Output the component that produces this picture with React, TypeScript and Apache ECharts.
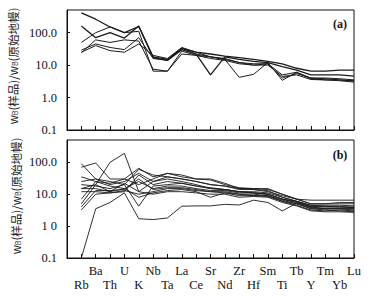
import React, { useEffect, useRef } from "react";
import * as echarts from "echarts";

const elements = ["Rb","Ba","Th","U","K","Nb","Ta","La","Ce","Sr","Nd","Zr","Hf","Sm","Ti","Tb","Y","Tm","Yb","Lu"];
const yTickLabelsA: Record<string, string> = { "-1": "0.1", "0": "1.0", "1": "10.0", "2": "100.0" };
const yTickLabelsB: Record<string, string> = { "-1": "0.1", "0": "1 0", "1": "10.0", "2": "100.0" };

// Panel (a)
const a1 = [410, 260, 150, 100, 155, 18, 15, 33, 25, 22, 19, 17, 15, 13, 11, 8, 6.5, 6.5, 7, 7];
const a2 = [160, 70, 100, 68, 160, 17, 14, 30, 22, 5, 18, 15, 13, 12, 9, 7, 5, 5, 5, 4.6];
const a3 = [50, 100, 150, 100, 110, 6.5, 6.5, 22, 20, 18, 15, 4.2, 5.2, 12, 3.4, 6, 3.8, 3.5, 3.5, 3.2];
const a4 = [29, 45, 35, 30, 70, 16, 14, 33, 22, 18, 15, 12, 11, 11, 4, 5.5, 4, 4, 3.8, 3.5];
const a5 = [25, 40, 28, 25, 45, 20, 16, 35, 25, 18, 16, 12, 10, 11, 5, 6, 4, 3.8, 3.5, 3.3];
const a6 = [24, 60, 50, 60, 55, 7.5, 6.5, 27, 20, 16, 14, 11, 10, 10, 4.5, 5, 3.6, 3.5, 3.3, 3.0];
const panelA = [a1, a2, a3, a4, a5, a6];

// Panel (b)
const b1 = [0.1, 3.5, 5.5, 11, 1.7, 1.6, 1.8, 4.2, 4.3, 4.3, 4.8, 4.6, 6.5, 5.5, 3.0, 5.2, 3.5, 3.2, 3.0, 2.8];
const b2 = [15, 20, 100, 190, 12, 25, 30, 25, 20, 15, 14, 12, 11, 10, 7, 6, 4, 3.5, 3.5, 3.2];
const b3 = [90, 30, 25, 20, 60, 40, 35, 30, 25, 20, 18, 15, 14, 13, 8, 6, 4.5, 4.2, 4, 3.8];
const b4 = [70, 95, 30, 30, 20, 30, 45, 40, 30, 28, 20, 16, 15, 14, 10, 7, 5, 5, 5.5, 5.5];
const b5 = [35, 25, 22, 30, 65, 35, 45, 35, 30, 30, 22, 15, 15, 15, 10, 7, 6.5, 6.5, 6.5, 6.5];
const b6 = [25, 30, 20, 25, 45, 25, 35, 30, 25, 20, 18, 14, 14, 12, 9, 7, 5, 5, 5, 5];
const b7 = [20, 18, 15, 20, 4.2, 18, 20, 22, 18, 15, 14, 12, 12, 11, 8, 6, 4.5, 4.5, 4.5, 4.3];
const b8 = [15, 15, 12, 15, 25, 15, 18, 18, 15, 13, 13, 11, 11, 10, 7, 5.5, 4, 4, 4, 4];
const b9 = [12, 12, 11, 13, 10, 12, 15, 15, 13, 12, 12, 10, 10, 9, 6.5, 5, 3.5, 3.5, 3.5, 3.5];
const b10 = [7, 25, 18, 15, 8, 11, 13, 14, 12, 8, 11, 9, 9, 8.5, 6, 4.5, 3.2, 3, 3.2, 3];
const b11 = [5, 20, 12, 22, 12, 10, 12, 12, 11, 10, 10, 8, 8.5, 8, 5.5, 4.3, 3, 2.8, 2.8, 2.7];
const b12 = [4, 13, 13, 14, 30, 14, 16, 16, 14, 12, 11, 10, 9, 9, 6, 5, 3.8, 3.5, 3.5, 3.5];
const b13 = [3.2, 10, 11, 12, 40, 20, 25, 22, 18, 16, 14, 12, 11, 10, 7, 5.5, 4.2, 4, 4, 3.8];
const panelB = [b1, b2, b3, b4, b5, b6, b7, b8, b9, b10, b11, b12, b13];

const yMin = 0.1;
const yMax = 500;
const FONT = "'Liberation Serif', 'DejaVu Serif', serif";
const CJK = "'Noto Sans CJK SC', 'Noto Sans', sans-serif";

export default function App() {
  const ref = useRef<HTMLDivElement>(null);
  useEffect(() => {
    if (!ref.current) return;
    const chart = echarts.init(ref.current, null, { renderer: "svg" });
    const yLabelFmt = (labels: Record<string, string>) => (v: number) => {
      const l = Math.log10(v);
      const r = Math.round(l);
      if (Math.abs(l - r) > 1e-6) return "";
      return labels[String(r)] ?? "";
    };
    // parity: -1 = no labels, 1 = odd-index labels (upper row), 0 = even-index labels (lower row)
    const xAxisBase = (gridIndex: number, parity: number, margin: number, drawLine: boolean) => ({
      type: "value" as const,
      gridIndex,
      position: "bottom" as const,
      min: -1,
      max: 19,
      interval: 1,
      splitLine: { show: false },
      axisLine: { show: drawLine, onZero: false, lineStyle: { color: "#111", width: 1 } },
      axisTick: { show: drawLine, inside: true, length: 4, lineStyle: { color: "#111" } },
      axisLabel: {
        show: parity >= 0,
        showMaxLabel: true,
        showMinLabel: true,
        hideOverlap: false,
        margin,
        fontFamily: FONT,
        fontSize: 12.5,
        color: "#111",
        formatter: (v: number) => {
          const i = Math.round(v);
          if (i < 0 || i >= elements.length) return "";
          return i % 2 === parity ? elements[i] : "";
        },
      },
    });
    const yAxisBase = (gridIndex: number, labels: Record<string, string>) => ({
      type: "log" as const,
      gridIndex,
      min: yMin,
      max: yMax,
      logBase: 10,
      splitLine: { show: false },
      axisLine: { onZero: false, lineStyle: { color: "#111", width: 1 } },
      axisTick: { inside: true, length: 3, lineStyle: { color: "#111" } },
      axisLabel: {
        margin: 10,
        fontFamily: FONT,
        fontSize: 12.5,
        color: "#111",
        showMaxLabel: false,
        formatter: yLabelFmt(labels),
      },
    });
    const mkSeries = (arr: number[], xIdx: number, yIdx: number, lw: number) => ({
      type: "line" as const,
      xAxisIndex: xIdx,
      yAxisIndex: yIdx,
      data: arr.map((v, i) => [i, v]),
      symbol: "none",
      lineStyle: { color: "#1a1a1a", width: lw },
      silent: true,
    });
    const nameRich = {
      s: { fontSize: 7, fontFamily: CJK, fill: "#222", verticalAlign: "bottom" },
    };
    const nameText = (x: number, y: number) => ({
      type: "text",
      x,
      y,
      rotation: Math.PI / 2,
      style: {
        text: "w{s|B}(样品)/w{s|B}(原始地幔)",
        fontFamily: CJK,
        fontSize: 11.5,
        fill: "#222",
        align: "center",
        verticalAlign: "middle",
        rich: nameRich,
      },
    });
    chart.setOption({
      animation: false,
      backgroundColor: "#fff",
      grid: [
        { left: 67, top: 10, width: 287, height: 120, show: true, borderColor: "#111", borderWidth: 1 },
        { left: 67, top: 140, width: 287, height: 118, show: true, borderColor: "#111", borderWidth: 1 },
      ],
      xAxis: [
        xAxisBase(0, -1, 6, true),
        xAxisBase(1, 1, 6, true),
        xAxisBase(1, 0, 20, false),
      ],
      yAxis: [yAxisBase(0, yTickLabelsA), yAxisBase(1, yTickLabelsB)],
      series: [
        ...panelA.map((a, i) => mkSeries(a, 0, 0, i < 2 ? 1.3 : 1)),
        ...panelB.map((b) => mkSeries(b, 1, 1, 0.9)),
      ],
      graphic: [
        nameText(13, 66),
        nameText(16, 196),
        {
          type: "text",
          x: 340,
          y: 24,
          style: { text: "(a)", fontFamily: FONT, fontSize: 12, fontWeight: "bold", fill: "#111", align: "center", verticalAlign: "middle" },
        },
        {
          type: "text",
          x: 340,
          y: 155,
          style: { text: "(b)", fontFamily: FONT, fontSize: 12, fontWeight: "bold", fill: "#111", align: "center", verticalAlign: "middle" },
        },
      ],
    });
    return () => chart.dispose();
  }, []);
  return (
    <div
      ref={ref}
      style={{ position: "absolute", left: 0, top: 0, width: 371, height: 300, background: "#fff" }}
    />
  );
}
